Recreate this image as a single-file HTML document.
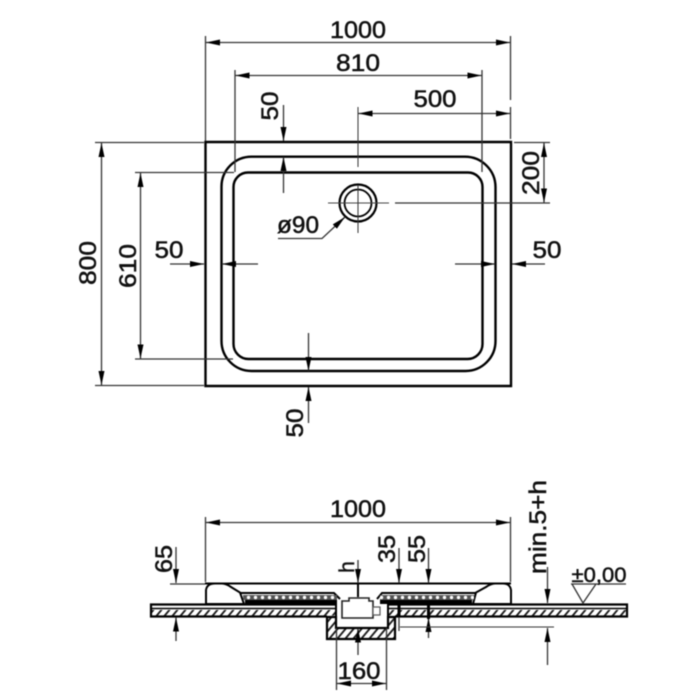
<!DOCTYPE html>
<html><head><meta charset="utf-8"><style>
html,body{margin:0;padding:0;background:#fff}
svg{display:block;filter:blur(.45px)}
text{font-family:"Liberation Sans",sans-serif;font-size:24px;fill:#111;text-anchor:middle;stroke:#111;stroke-width:.5}
.d{stroke:#333;stroke-width:1.3;fill:none}
.h{stroke:#000;stroke-width:2.4;fill:none}
</style></head><body>
<svg width="700" height="700" viewBox="0 0 700 700" xmlns="http://www.w3.org/2000/svg">
<defs>
<marker id="a" viewBox="0 0 14 6" refX="14" refY="3" markerWidth="14" markerHeight="6" markerUnits="userSpaceOnUse" orient="auto-start-reverse"><path d="M0 0L14 3L0 6Z" fill="#000"/></marker>
<pattern id="hat" width="8" height="8" patternUnits="userSpaceOnUse" patternTransform="skewX(-40)"><rect width="8" height="8" fill="#fff"/><rect width="2.500" height="8" fill="#222"/></pattern>
<pattern id="dots" width="7" height="5" patternUnits="userSpaceOnUse"><rect width="7" height="5" fill="#555"/><circle cx="3.500" cy="2.500" r="1.700" fill="#fff"/></pattern>
</defs>

<!-- PLAN -->
<path class="h" d="M205.500 142H511V386H205.500Z"/>
<path class="h" d="M221.500 187A30 30 0 0 1 251.500 156.700H465A30.500 30.500 0 0 1 495.500 187V341A30 30 0 0 1 465.500 371H251.500A30 30 0 0 1 221.500 341Z"/>
<path class="h" d="M233.500 187A14.500 14.500 0 0 1 248 172.500H468A14.500 14.500 0 0 1 482.500 187V344A15 15 0 0 1 467.500 359H248.500A15 15 0 0 1 233.500 344Z" stroke-width="2.200"/>
<circle cx="358" cy="203" r="18.500" fill="#fff" stroke="#000" stroke-width="2.200"/>
<circle cx="358" cy="203" r="13.500" fill="none" stroke="#000" stroke-width="1.800"/>
<path d="M328 203H389M395 203H550" stroke="#444" stroke-width="1" fill="none"/>
<path d="M358 107V167M358 185V233" stroke="#333" stroke-width="1" fill="none"/>

<!-- top dims -->
<path class="d" d="M205.500 36V141M510.500 36V100M510.500 107V139M235 70V172M482 70V172"/>
<path class="d" d="M206 42.500H510" marker-start="url(#a)" marker-end="url(#a)"/>
<path class="d" d="M235.500 75.500H481.500" marker-start="url(#a)" marker-end="url(#a)"/>
<path class="d" d="M358.500 113.500H510" marker-start="url(#a)" marker-end="url(#a)"/>
<text x="358" y="38" textLength="56" lengthAdjust="spacingAndGlyphs">1000</text>
<text x="358" y="71" textLength="44" lengthAdjust="spacingAndGlyphs">810</text>
<text x="435" y="107" textLength="43" lengthAdjust="spacingAndGlyphs">500</text>

<!-- 50 top -->
<path class="d" d="M283.500 105V141" marker-end="url(#a)"/>
<path class="d" d="M283.500 193V157" marker-end="url(#a)"/>
<text transform="translate(278 106) rotate(-90)" textLength="29" lengthAdjust="spacingAndGlyphs">50</text>

<!-- left dims -->
<path class="d" d="M95 142.500H204M135 172.500H234M135 359H233M95 385.500H204"/>
<path class="d" d="M101.500 143V385" marker-start="url(#a)" marker-end="url(#a)"/>
<path class="d" d="M140.500 173V358.500" marker-start="url(#a)" marker-end="url(#a)"/>
<text transform="translate(96 263) rotate(-90)" textLength="44" lengthAdjust="spacingAndGlyphs">800</text>
<text transform="translate(136 266) rotate(-90)" textLength="44" lengthAdjust="spacingAndGlyphs">610</text>

<!-- 50 left -->
<path class="d" d="M170 264H204" marker-end="url(#a)"/>
<path class="d" d="M258 264H222" marker-end="url(#a)"/>
<text x="169" y="258" textLength="29" lengthAdjust="spacingAndGlyphs">50</text>

<!-- 50 right -->
<path class="d" d="M545 264H512" marker-end="url(#a)"/>
<path class="d" d="M455 264H495" marker-end="url(#a)"/>
<text x="547" y="258" textLength="29" lengthAdjust="spacingAndGlyphs">50</text>

<!-- 200 -->
<path class="d" d="M514 142.500H550M395 203H550"/>
<path class="d" d="M544 143V202.500" marker-start="url(#a)" marker-end="url(#a)"/>
<text transform="translate(539 173) rotate(-90)" textLength="44" lengthAdjust="spacingAndGlyphs">200</text>

<!-- 50 bottom -->
<path class="d" d="M308.500 333V371" marker-end="url(#a)"/>
<path class="d" d="M308.500 423V387" marker-end="url(#a)"/>
<text transform="translate(303 423) rotate(-90)" textLength="29" lengthAdjust="spacingAndGlyphs">50</text>

<!-- dia 90 -->
<path class="d" d="M278 238.500H322L345 217" marker-end="url(#a)"/>
<text x="298" y="233" textLength="42" lengthAdjust="spacingAndGlyphs">ø90</text>

<!-- SECTION -->
<path class="d" d="M205.500 517V582M510.500 517V582"/>
<path class="d" d="M206 522.500H510" marker-start="url(#a)" marker-end="url(#a)"/>
<text x="358" y="517" textLength="56" lengthAdjust="spacingAndGlyphs">1000</text>

<!-- slab left and right of the pit -->
<rect x="152" y="610" width="184" height="5.500" fill="url(#hat)"/>
<rect x="389" y="610" width="237" height="5.500" fill="url(#hat)"/>
<path d="M336 604.500H151V616.500H327M389 604.500H627V616.500H395" stroke="#000" stroke-width="2.200" fill="none"/>
<path d="M151 608.500H336M389 608.500H627" stroke="#000" stroke-width="1.500"/>
<!-- pit -->
<path d="M327 617V639H395V617H388V628H336V617Z" fill="url(#hat)" stroke="#000" stroke-width="2.200"/>
<path d="M336 603V628H388V603" stroke="#000" stroke-width="2" fill="none"/>

<!-- tray -->
<path d="M206 604V590Q207 583.500 215 583.500H222Q226 583.500 231 587L240 592.500L244 604Z" fill="#fff" stroke="#000" stroke-width="2"/>
<path d="M511 604V590Q510 583.500 503 583.500H495Q491 583.500 486 587L476 592.500L473 604Z" fill="#fff" stroke="#000" stroke-width="2"/>
<path d="M205 583.500H511" stroke="#000" stroke-width="2"/>
<path d="M240 593H334L340 599M476 593H382L377 599" fill="none" stroke="#000" stroke-width="2"/>
<rect x="243" y="595" width="94" height="5" fill="url(#dots)"/>
<rect x="380" y="595" width="94" height="5" fill="url(#dots)"/>
<path d="M245 602H337M380 602H472" stroke="#000" stroke-width="4"/>

<!-- drain body -->
<path d="M342 618V601H349V598H369V601H373V618Z" fill="#fff" stroke="#222" stroke-width="1.600"/>
<rect x="373" y="607" width="7" height="8" fill="#fff" stroke="#555" stroke-width="1.200"/>

<!-- 65 -->
<path class="d" d="M170 584H205"/>
<path class="d" d="M176 547V583" marker-end="url(#a)"/>
<path class="d" d="M176 641V617.500" marker-end="url(#a)"/>
<text transform="translate(172 559) rotate(-90)" textLength="28" lengthAdjust="spacingAndGlyphs">65</text>

<!-- h -->
<path class="d" d="M358 560V583" marker-end="url(#a)"/>
<path class="d" d="M358 655V628.500" marker-end="url(#a)"/>
<path d="M358 583V597" stroke="#000" stroke-width="2"/>
<text transform="translate(354 567) rotate(-90)" style="font-size:21px">h</text>

<!-- 35 55 -->
<path class="d" d="M399 548V583" marker-end="url(#a)"/>
<path class="d" d="M399 604V631"/>
<path d="M399 604V617" stroke="#000" stroke-width="3"/>
<path class="d" d="M428.500 548V583" marker-end="url(#a)"/>
<path class="d" d="M428.500 638V618" marker-end="url(#a)"/>
<path d="M428.500 605V619" stroke="#000" stroke-width="3"/>
<text transform="translate(395 549) rotate(-90)" textLength="28" lengthAdjust="spacingAndGlyphs">35</text>
<text transform="translate(425 549) rotate(-90)" textLength="28" lengthAdjust="spacingAndGlyphs">55</text>

<!-- min.5+h -->
<path class="d" d="M547.500 567V603" marker-end="url(#a)"/>
<path class="d" d="M547.500 665V628" marker-end="url(#a)"/>
<path d="M400 627H554" stroke="#333" stroke-width="1.100"/>
<text transform="translate(546 527) rotate(-90)" textLength="94" lengthAdjust="spacingAndGlyphs">min.5+h</text>

<!-- +-0.00 -->
<path class="d" d="M571 584H626M572 584L583 603L596 584"/>
<text x="599" y="582" textLength="55" lengthAdjust="spacingAndGlyphs" style="font-size:21.500px">±0,00</text>

<!-- 160 -->
<path class="d" d="M336.500 628V690M386.500 628V690"/>
<path class="d" d="M337 683.500H386" marker-start="url(#a)" marker-end="url(#a)"/>
<text x="359" y="679" textLength="43" lengthAdjust="spacingAndGlyphs">160</text>
</svg>
</body></html>
